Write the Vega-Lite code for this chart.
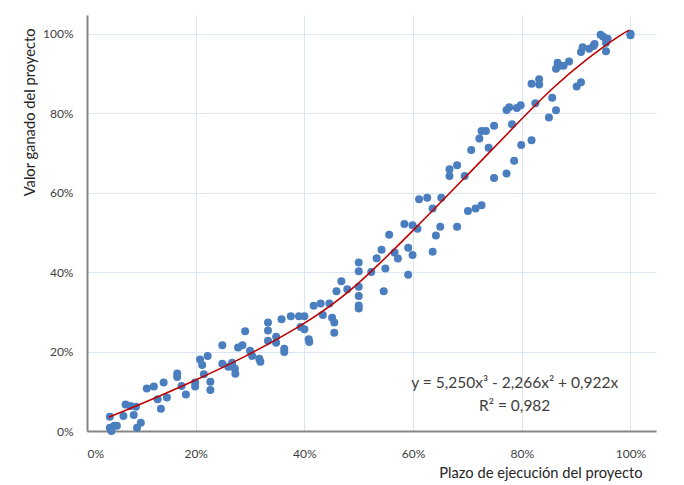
{
  "$schema": "https://vega.github.io/schema/vega-lite/v6.json",
  "width": 569,
  "height": 416,
  "autosize": {"type": "none"},
  "padding": {"left": 87, "top": 15, "right": 28, "bottom": 54},
  "background": "white",
  "config": {
    "view": {"stroke": null},
    "font": "Lato",
    "axis": {
      "labelFont": "Lato",
      "titleFont": "Lato",
      "labelFontSize": 12,
      "labelColor": "#404040",
      "titleColor": "#262626",
      "titleFontSize": 14.7,
      "titleFontWeight": "normal",
      "gridColor": "#DCE6F2",
      "gridWidth": 1,
      "domainColor": "#868686",
      "domainWidth": 2,
      "ticks": false
    }
  },
  "datasets": {
    "puntos": [
      {"plazo": 0.042, "valor": 0.036}, {"plazo": 0.042, "valor": 0.008}, {"plazo": 0.045, "valor": 0.0},
      {"plazo": 0.050, "valor": 0.013}, {"plazo": 0.055, "valor": 0.013}, {"plazo": 0.067, "valor": 0.038},
      {"plazo": 0.071, "valor": 0.067}, {"plazo": 0.080, "valor": 0.063}, {"plazo": 0.086, "valor": 0.040},
      {"plazo": 0.090, "valor": 0.061}, {"plazo": 0.092, "valor": 0.008}, {"plazo": 0.099, "valor": 0.021},
      {"plazo": 0.110, "valor": 0.107}, {"plazo": 0.123, "valor": 0.112}, {"plazo": 0.130, "valor": 0.080},
      {"plazo": 0.136, "valor": 0.056}, {"plazo": 0.141, "valor": 0.122}, {"plazo": 0.147, "valor": 0.084},
      {"plazo": 0.166, "valor": 0.145}, {"plazo": 0.166, "valor": 0.136}, {"plazo": 0.174, "valor": 0.113},
      {"plazo": 0.182, "valor": 0.092}, {"plazo": 0.199, "valor": 0.122}, {"plazo": 0.199, "valor": 0.112},
      {"plazo": 0.208, "valor": 0.180}, {"plazo": 0.212, "valor": 0.166}, {"plazo": 0.215, "valor": 0.143},
      {"plazo": 0.222, "valor": 0.189}, {"plazo": 0.227, "valor": 0.124}, {"plazo": 0.227, "valor": 0.103},
      {"plazo": 0.249, "valor": 0.216}, {"plazo": 0.249, "valor": 0.169}, {"plazo": 0.260, "valor": 0.162},
      {"plazo": 0.267, "valor": 0.172}, {"plazo": 0.272, "valor": 0.157}, {"plazo": 0.273, "valor": 0.144},
      {"plazo": 0.278, "valor": 0.210}, {"plazo": 0.286, "valor": 0.216}, {"plazo": 0.291, "valor": 0.251},
      {"plazo": 0.300, "valor": 0.202}, {"plazo": 0.304, "valor": 0.189}, {"plazo": 0.317, "valor": 0.182},
      {"plazo": 0.319, "valor": 0.174}, {"plazo": 0.333, "valor": 0.273}, {"plazo": 0.333, "valor": 0.253},
      {"plazo": 0.333, "valor": 0.227}, {"plazo": 0.348, "valor": 0.237}, {"plazo": 0.348, "valor": 0.222},
      {"plazo": 0.358, "valor": 0.281}, {"plazo": 0.363, "valor": 0.207}, {"plazo": 0.363, "valor": 0.199},
      {"plazo": 0.375, "valor": 0.289}, {"plazo": 0.390, "valor": 0.289}, {"plazo": 0.400, "valor": 0.289},
      {"plazo": 0.393, "valor": 0.262}, {"plazo": 0.400, "valor": 0.256}, {"plazo": 0.408, "valor": 0.231},
      {"plazo": 0.409, "valor": 0.224}, {"plazo": 0.417, "valor": 0.315}, {"plazo": 0.430, "valor": 0.321},
      {"plazo": 0.434, "valor": 0.292}, {"plazo": 0.446, "valor": 0.321}, {"plazo": 0.451, "valor": 0.285},
      {"plazo": 0.455, "valor": 0.273}, {"plazo": 0.455, "valor": 0.247}, {"plazo": 0.459, "valor": 0.352},
      {"plazo": 0.468, "valor": 0.377}, {"plazo": 0.479, "valor": 0.357}, {"plazo": 0.500, "valor": 0.424},
      {"plazo": 0.500, "valor": 0.402}, {"plazo": 0.500, "valor": 0.363}, {"plazo": 0.500, "valor": 0.340},
      {"plazo": 0.500, "valor": 0.316}, {"plazo": 0.500, "valor": 0.308}, {"plazo": 0.523, "valor": 0.400},
      {"plazo": 0.533, "valor": 0.435}, {"plazo": 0.542, "valor": 0.456}, {"plazo": 0.546, "valor": 0.352},
      {"plazo": 0.549, "valor": 0.409}, {"plazo": 0.556, "valor": 0.494}, {"plazo": 0.566, "valor": 0.449},
      {"plazo": 0.572, "valor": 0.434}, {"plazo": 0.584, "valor": 0.521}, {"plazo": 0.591, "valor": 0.461},
      {"plazo": 0.591, "valor": 0.393}, {"plazo": 0.599, "valor": 0.518}, {"plazo": 0.599, "valor": 0.443},
      {"plazo": 0.608, "valor": 0.509}, {"plazo": 0.611, "valor": 0.583}, {"plazo": 0.626, "valor": 0.587},
      {"plazo": 0.636, "valor": 0.560}, {"plazo": 0.636, "valor": 0.451}, {"plazo": 0.642, "valor": 0.492},
      {"plazo": 0.650, "valor": 0.514}, {"plazo": 0.652, "valor": 0.587}, {"plazo": 0.667, "valor": 0.659},
      {"plazo": 0.667, "valor": 0.642}, {"plazo": 0.681, "valor": 0.669}, {"plazo": 0.681, "valor": 0.514},
      {"plazo": 0.695, "valor": 0.642}, {"plazo": 0.701, "valor": 0.554}, {"plazo": 0.707, "valor": 0.707},
      {"plazo": 0.715, "valor": 0.560}, {"plazo": 0.722, "valor": 0.736}, {"plazo": 0.726, "valor": 0.755},
      {"plazo": 0.726, "valor": 0.568}, {"plazo": 0.734, "valor": 0.755}, {"plazo": 0.739, "valor": 0.713},
      {"plazo": 0.749, "valor": 0.768}, {"plazo": 0.749, "valor": 0.637}, {"plazo": 0.772, "valor": 0.648},
      {"plazo": 0.772, "valor": 0.808}, {"plazo": 0.777, "valor": 0.815}, {"plazo": 0.782, "valor": 0.772},
      {"plazo": 0.786, "valor": 0.680}, {"plazo": 0.791, "valor": 0.813}, {"plazo": 0.798, "valor": 0.820},
      {"plazo": 0.799, "valor": 0.720}, {"plazo": 0.818, "valor": 0.732}, {"plazo": 0.818, "valor": 0.874},
      {"plazo": 0.825, "valor": 0.825}, {"plazo": 0.832, "valor": 0.885}, {"plazo": 0.832, "valor": 0.872},
      {"plazo": 0.850, "valor": 0.789}, {"plazo": 0.856, "valor": 0.839}, {"plazo": 0.863, "valor": 0.807},
      {"plazo": 0.863, "valor": 0.912}, {"plazo": 0.866, "valor": 0.927}, {"plazo": 0.870, "valor": 0.919},
      {"plazo": 0.877, "valor": 0.919}, {"plazo": 0.887, "valor": 0.930}, {"plazo": 0.901, "valor": 0.867},
      {"plazo": 0.909, "valor": 0.878}, {"plazo": 0.909, "valor": 0.954}, {"plazo": 0.912, "valor": 0.966},
      {"plazo": 0.924, "valor": 0.962}, {"plazo": 0.932, "valor": 0.969}, {"plazo": 0.934, "valor": 0.974},
      {"plazo": 0.945, "valor": 0.997}, {"plazo": 0.950, "valor": 0.992}, {"plazo": 0.955, "valor": 0.977},
      {"plazo": 0.955, "valor": 0.956}, {"plazo": 0.958, "valor": 0.987}, {"plazo": 1.0, "valor": 1.0},
      {"plazo": 1.0, "valor": 0.996}
    ],
    "tendencia": [
      {"plazo": 0.040, "valor": 0.035}, {"plazo": 0.100, "valor": 0.068}, {"plazo": 0.200, "valor": 0.128},
      {"plazo": 0.282, "valor": 0.180}, {"plazo": 0.400, "valor": 0.268}, {"plazo": 0.484, "valor": 0.347},
      {"plazo": 0.597, "valor": 0.500}, {"plazo": 0.695, "valor": 0.637}, {"plazo": 0.798, "valor": 0.783},
      {"plazo": 0.858, "valor": 0.866}, {"plazo": 0.919, "valor": 0.936}, {"plazo": 0.981, "valor": 0.997},
      {"plazo": 0.998, "valor": 1.009}
    ]
  },
  "data": {"name": "puntos"},
  "layer": [
    {
      "mark": {"type": "point", "filled": true, "size": 64, "color": "#4A7EBE", "opacity": 1},
      "encoding": {
        "x": {
          "field": "plazo", "type": "quantitative",
          "scale": {"domain": [0, 1.047], "nice": false, "zero": true},
          "axis": {
            "values": [0, 0.2, 0.4, 0.6, 0.8, 1.0], "format": ".0%",
            "labelPadding": 17,
            "title": "Plazo de ejecución del proyecto",
            "titleAnchor": "end", "titleAlign": "right",
            "titleX": 555, "titleY": 42, "titleBaseline": "middle"
          }
        },
        "y": {
          "field": "valor", "type": "quantitative",
          "scale": {"domain": [0, 1.047], "nice": false, "zero": true},
          "axis": {
            "values": [0, 0.2, 0.4, 0.6, 0.8, 1.0], "format": ".0%",
            "labelPadding": 14,
            "title": "Valor ganado del proyecto",
            "titleAngle": -90, "titleAlign": "right", "titleBaseline": "middle",
            "titleX": -57, "titleY": 13
          }
        }
      }
    },
    {
      "data": {"name": "tendencia"},
      "mark": {"type": "line", "color": "#C00000", "strokeWidth": 1.6, "interpolate": "basis"},
      "encoding": {
        "x": {"field": "plazo", "type": "quantitative"},
        "y": {"field": "valor", "type": "quantitative"}
      }
    },
    {
      "data": {"values": [{"t": ["y = 5,250x³ - 2,266x² + 0,922x", "R² = 0,982"]}]},
      "mark": {"type": "text", "font": "Lato", "fontSize": 15.5, "color": "#404040", "align": "center", "baseline": "middle", "lineHeight": 23},
      "encoding": {
        "text": {"field": "t"},
        "x": {"datum": 0.787},
        "y": {"datum": 0.12}
      }
    }
  ]
}
